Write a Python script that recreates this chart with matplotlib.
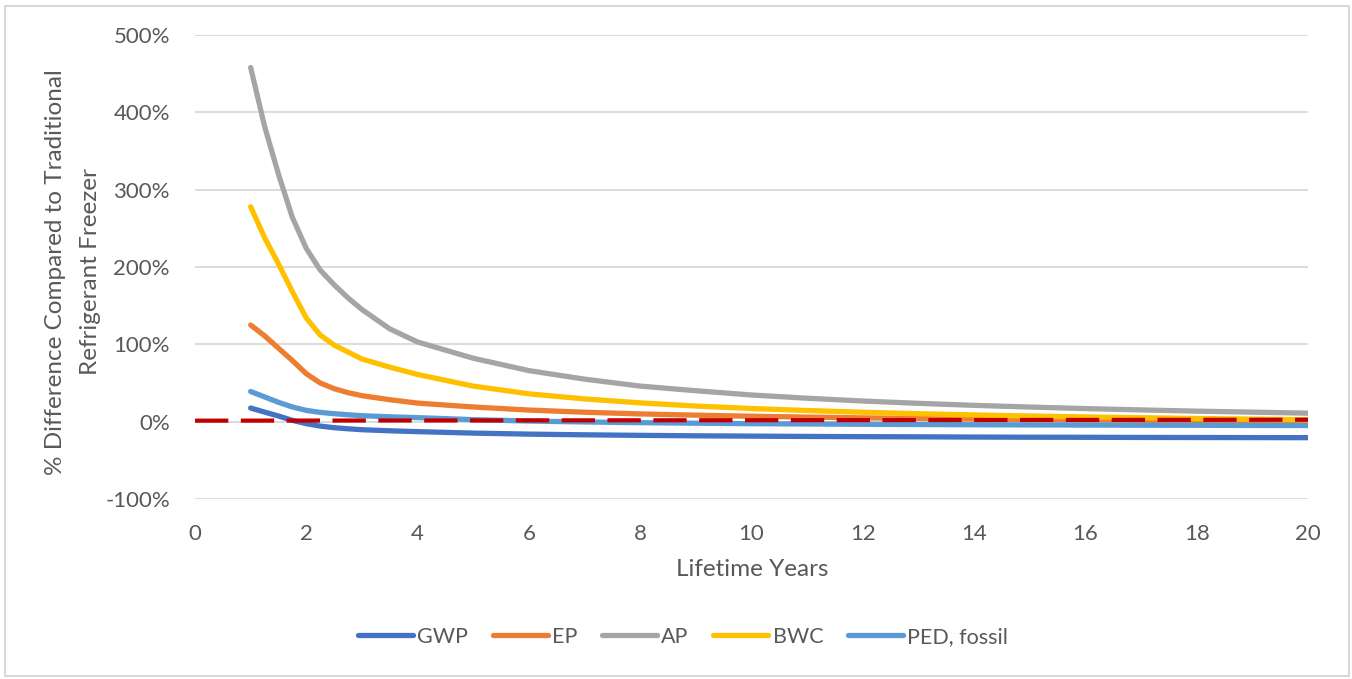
import matplotlib

matplotlib.use("Agg")
import matplotlib.pyplot as plt
from matplotlib.patches import Rectangle
from matplotlib.ticker import FuncFormatter, MultipleLocator

# values, % difference vs. traditional refrigerant freezer
years = [1, 1.25, 1.5, 1.75, 2, 2.25, 2.5, 2.75, 3, 3.5, 4, 5, 6, 7, 8, 9, 10,
         11, 12, 13, 14, 15, 16, 17, 18, 19, 20]
gwp = [17.6, 12.4, 7.3, 1.7, -2.6, -5.7, -7.8, -9.2, -10.4, -11.8, -12.9, -14.8, -16.1,
       -17.0, -17.7, -18.3, -18.7, -19.1, -19.4, -19.6, -19.9, -20.1, -20.2, -20.4,
       -20.5, -20.6, -20.7]
ep = [125, 111, 95, 79, 62, 50, 42.7, 37.5, 33.6, 28.4, 24.0, 19.0, 15.0, 12.2, 10.0,
      8.4, 7.0, 5.9, 4.9, 4.1, 3.4, 2.8, 2.2, 1.8, 1.4, 1.0, 0.7]
ap = [458, 382, 320, 264, 224, 196, 177, 160, 145, 120, 103, 82, 66, 55, 46, 40, 34.5,
      30.3, 26.7, 23.7, 21.1, 18.9, 16.9, 15.2, 13.6, 12.3, 11.0]
bwc = [278, 238, 204, 168, 134, 112, 99, 90, 81, 70.5, 61, 46, 36, 29.4, 24.3, 20.2,
       17.0, 14.4, 12.2, 10.3, 8.7, 7.3, 6.1, 5.1, 4.1, 3.3, 2.5]
ped = [39, 32, 25, 19, 14.6, 12.0, 10.3, 8.9, 7.7, 6.3, 5.2, 2.6, 0.8, -0.4, -1.3,
       -2.0, -2.6, -3.0, -3.4, -3.7, -4.0, -4.2, -4.4, -4.6, -4.7, -4.9, -5.0]
ref_x = [0, 20]
ref_y = [1.3, 2.5]

series_names = ["GWP", "EP", "AP", "BWC", "PED, fossil"]
series_colors = ["#4472C4", "#ED7D31", "#A5A5A5", "#FFC000", "#5B9BD5"]

text_color = "#595959"
plt.rcParams["font.family"] = ["Lato", "DejaVu Sans"]

fig = plt.figure(figsize=(13.52, 6.79), dpi=100)
ax = fig.add_axes([195 / 1352, 1 - 499 / 679, 1113 / 1352, 464 / 679])

for name, vals, col in zip(series_names, [gwp, ep, ap, bwc, ped], series_colors):
    ax.plot(years, vals, color=col, lw=3.8, label=name,
            solid_capstyle="round", solid_joinstyle="round")

ax.plot(ref_x, ref_y, color="#C00000", lw=3.0, dashes=(8, 3),
        dash_capstyle="butt")

ax.set_xlim(0, 20)
ax.set_ylim(-100, 500)
ax.xaxis.set_major_locator(MultipleLocator(2))
ax.yaxis.set_major_locator(MultipleLocator(100))
ax.yaxis.set_major_formatter(FuncFormatter(lambda v, _: f"{v:.0f}%"))
ax.grid(axis="y", color="#D9D9D9", lw=1.3)
ax.set_axisbelow(True)
for s in ax.spines.values():
    s.set_visible(False)
ax.tick_params(length=0, labelsize=16, colors=text_color, pad=18)

fig.text(752 / 1352, 1 - 569 / 679, "Lifetime Years", ha="center", va="center",
         fontsize=17.5, color=text_color)
fig.text(73 / 1352, 1 - 272 / 679,
         "% Difference Compared to Traditional\nRefrigerant Freezer",
         rotation=90, ha="center", va="center", multialignment="center",
         fontsize=17.5, color=text_color, linespacing=1.8)

fig.legend(loc="center", bbox_to_anchor=(683 / 1352, 1 - 637 / 679), ncol=5,
           frameon=False, fontsize=15.5, labelcolor=text_color,
           handlelength=2.55, handletextpad=0.2, columnspacing=1.15)

fig.patches.append(Rectangle((5 / 1352, 1 - 676 / 679), 1344 / 1352, 670 / 679,
                             transform=fig.transFigure, fill=False,
                             edgecolor="#D9D9D9", lw=1.5))

fig.savefig("out.png", dpi=100)
